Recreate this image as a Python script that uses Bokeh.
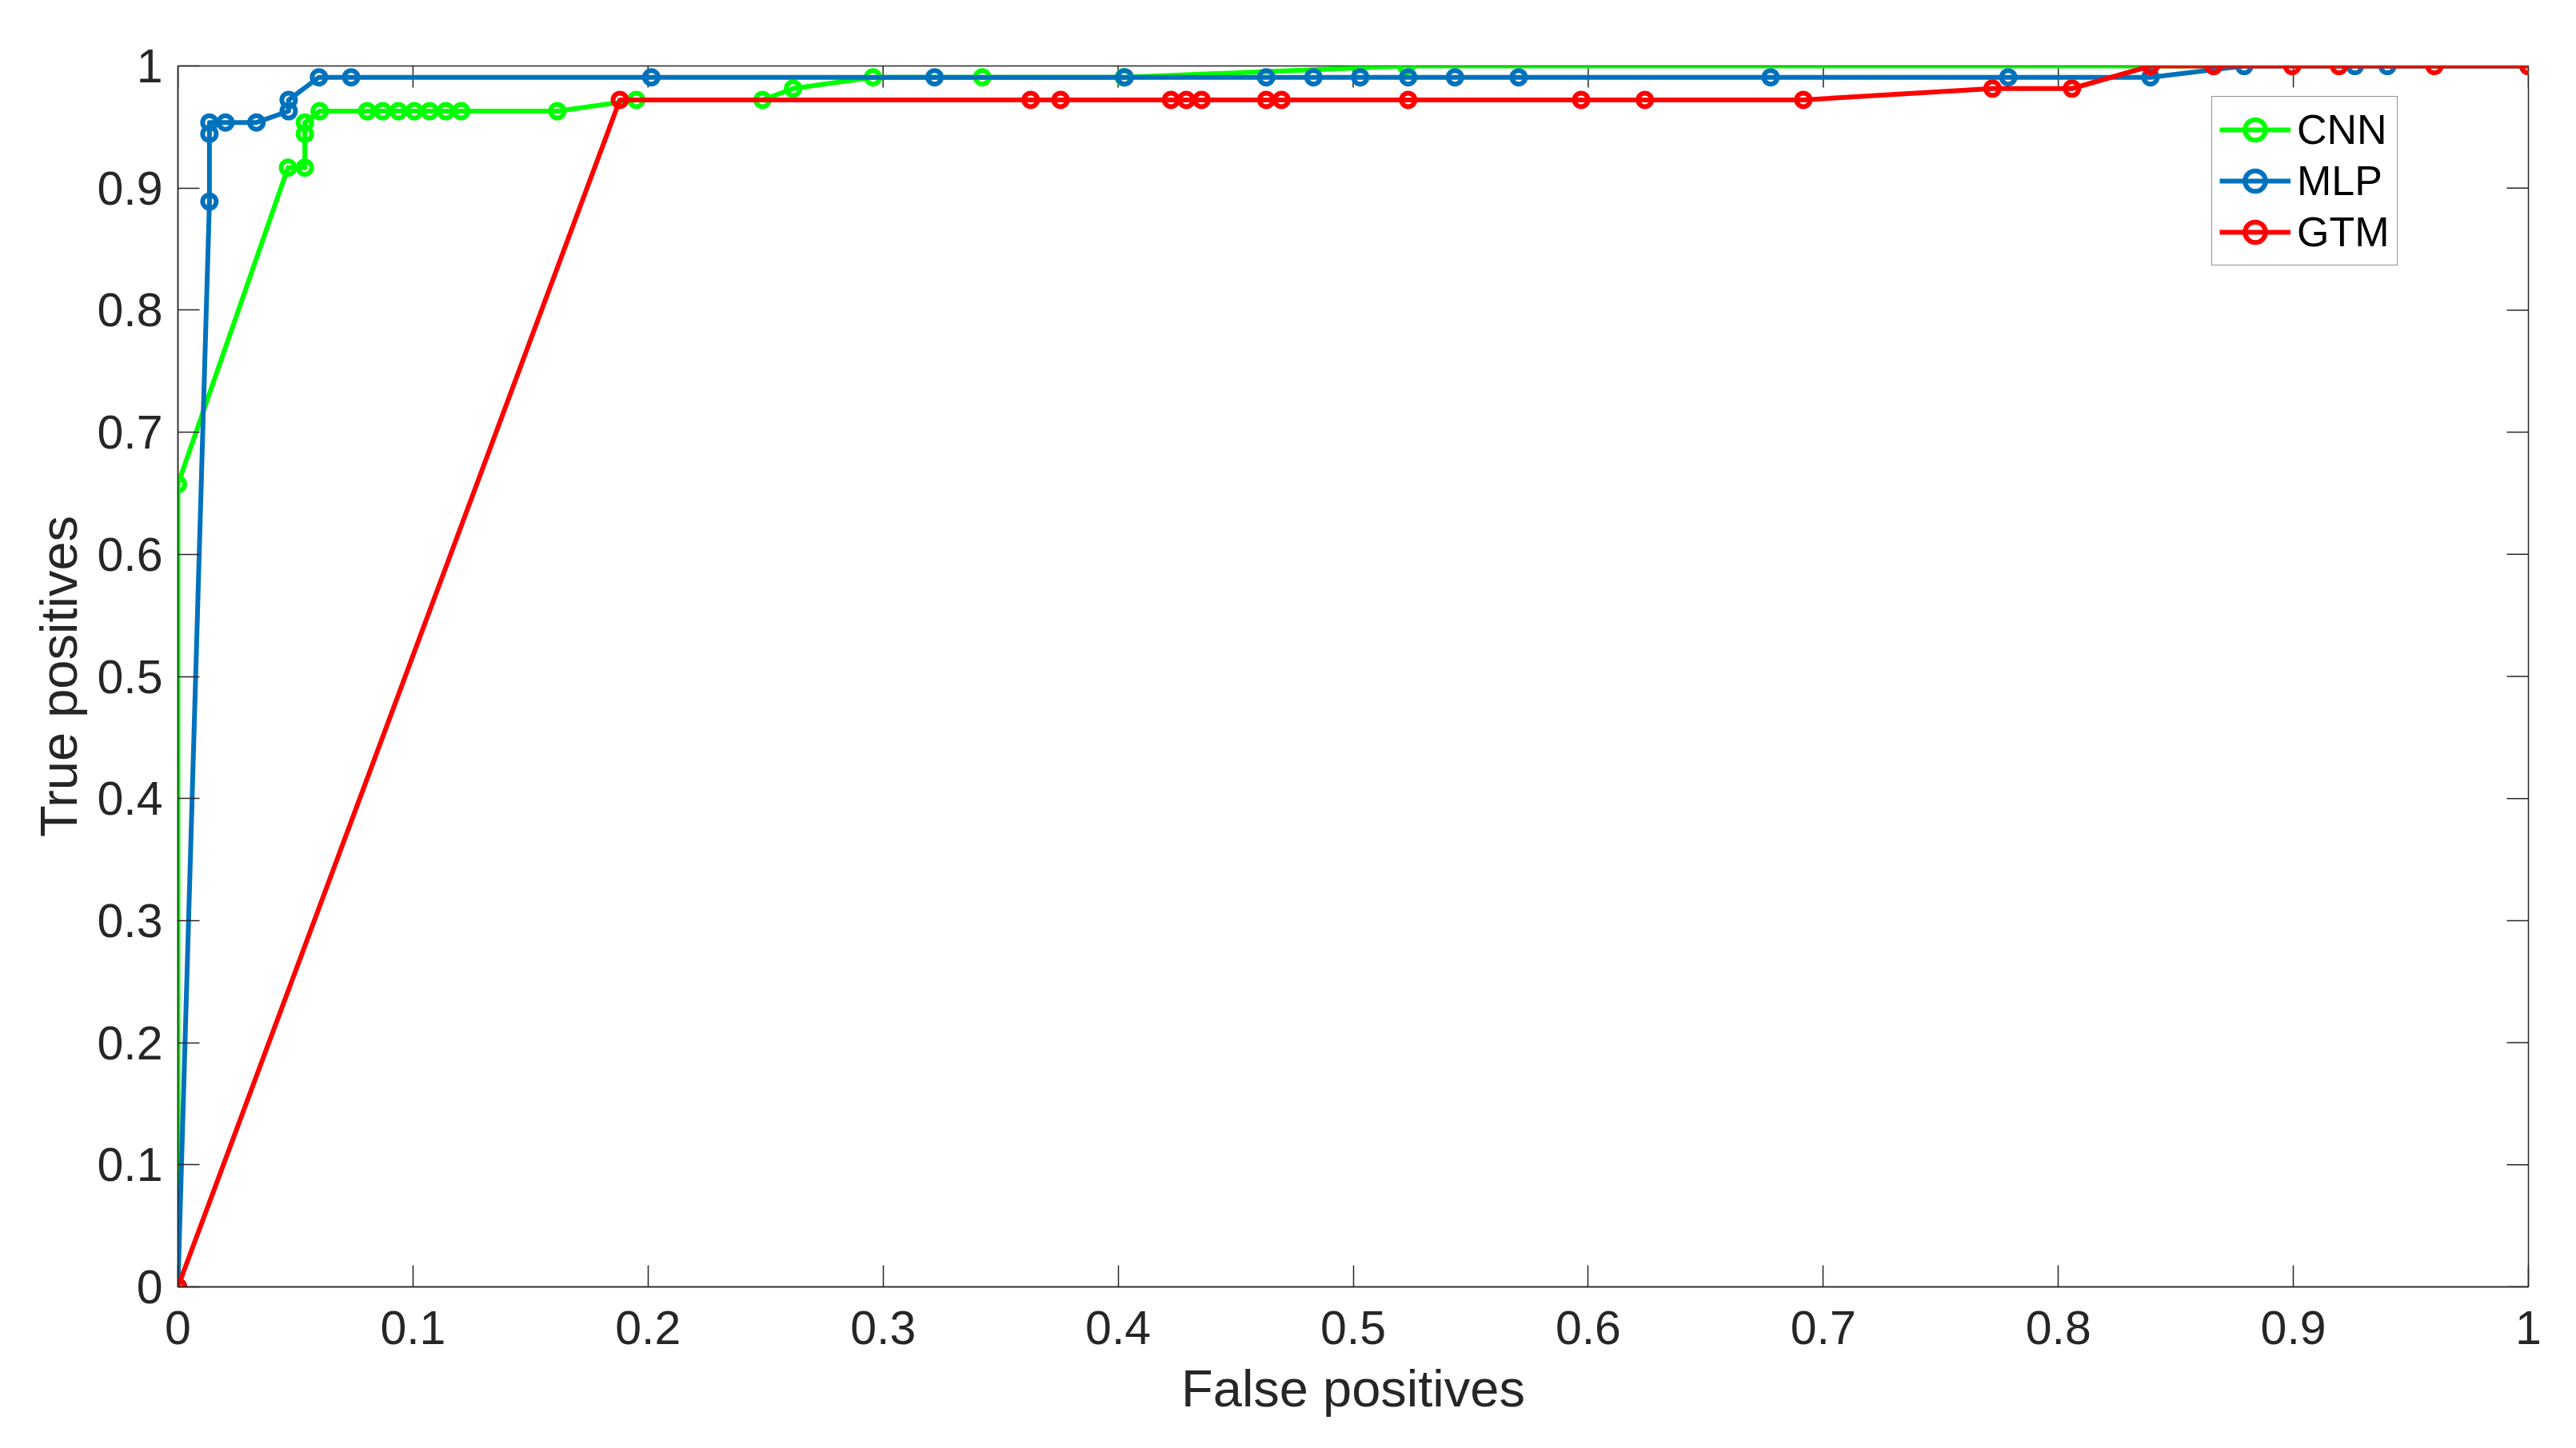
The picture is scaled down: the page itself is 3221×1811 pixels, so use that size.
from bokeh.plotting import figure
from bokeh.models import LinearAxis, FixedTicker, Legend, LegendItem, Range1d
from bokeh.embed import file_html
from bokeh.resources import INLINE

# ---- data ----
cnn_fp = [0, 0, 0.0468, 0.054, 0.054, 0.054, 0.0603, 0.0805, 0.0871, 0.0938, 0.1006,
          0.1071, 0.114, 0.1205, 0.1614, 0.195, 0.2487, 0.2617, 0.2957, 0.3422, 0.4024,
          0.5226, 1.0]
cnn_tp = [0, 0.6574, 0.9167, 0.9167, 0.9444, 0.9537, 0.963, 0.963, 0.963, 0.963, 0.963,
          0.963, 0.963, 0.963, 0.963, 0.9722, 0.9722, 0.9815, 0.9907, 0.9907, 0.9907,
          1.0, 1.0]

mlp_fp = [0, 0.0134, 0.0134, 0.0134, 0.0202, 0.0334, 0.0471, 0.0471, 0.060, 0.0737,
          0.2014, 0.3219, 0.4028, 0.463, 0.4831, 0.503, 0.5234, 0.5433, 0.5704, 0.6776,
          0.7787, 0.8392, 0.8791, 0.9262, 0.94, 1.0]
mlp_tp = [0, 0.8889, 0.9444, 0.9537, 0.9537, 0.9537, 0.963, 0.9722, 0.9907, 0.9907,
          0.9907, 0.9907, 0.9907, 0.9907, 0.9907, 0.9907, 0.9907, 0.9907, 0.9907, 0.9907,
          0.9907, 0.9907, 1.0, 1.0, 1.0, 1.0]

gtm_fp = [0, 0.188, 0.3628, 0.3755, 0.4225, 0.429, 0.4355, 0.463, 0.4695, 0.5234, 0.597,
          0.6241, 0.6915, 0.772, 0.8058, 0.8392, 0.8661, 0.8995, 0.9194, 0.960, 1.0]
gtm_tp = [0, 0.9722, 0.9722, 0.9722, 0.9722, 0.9722, 0.9722, 0.9722, 0.9722, 0.9722,
          0.9722, 0.9722, 0.9722, 0.9815, 0.9815, 1.0, 1.0, 1.0, 1.0, 1.0, 1.0]

series_names = ["CNN", "MLP", "GTM"]
series_colors = ["#00FF00", "#0072BD", "#FF0000"]

tick_vals = [0, 0.1, 0.2, 0.3, 0.4, 0.5, 0.6, 0.7, 0.8, 0.9, 1]
tick_labels = ["0", "0.1", "0.2", "0.3", "0.4", "0.5", "0.6", "0.7", "0.8", "0.9", "1"]

x_title = "False positives"
y_title = "True positives"

# ---- figure ----
FONT = "Liberation Sans"
AX = "#262626"
W, H = 3205, 1795
BL, BR, BT, BB = 222, 44, 82, 186
TICK = 27

p = figure(width=W, height=H, output_backend="svg", toolbar_location=None,
           x_range=Range1d(0, 1), y_range=Range1d(0, 1),
           min_border_left=BL, min_border_right=BR, min_border_top=BT, min_border_bottom=BB,
           x_axis_location=None, y_axis_location=None)
p.grid.visible = False
p.outline_line_color = AX
p.outline_line_width = 1.5
p.background_fill_color = "white"
p.border_fill_color = "white"

overrides = {v: s for v, s in zip(tick_vals, tick_labels)}

def style_axis(ax):
    ax.ticker = FixedTicker(ticks=tick_vals)
    ax.major_tick_in = TICK
    ax.major_tick_out = 0
    ax.minor_tick_line_color = None
    ax.axis_line_color = AX
    ax.axis_line_width = 1.5
    ax.major_tick_line_color = AX
    ax.major_tick_line_width = 1.5
    ax.major_label_overrides = overrides
    ax.major_label_text_font = FONT
    ax.major_label_text_font_size = "59px"
    ax.major_label_text_color = AX
    ax.axis_label_text_font = FONT
    ax.axis_label_text_font_size = "65px"
    ax.axis_label_text_font_style = "normal"
    ax.axis_label_text_color = AX

xb = LinearAxis(axis_label=x_title)
style_axis(xb)
xb.major_label_standoff = 30
xb.axis_label_standoff = 16
p.add_layout(xb, "below")

yl = LinearAxis(axis_label=y_title)
style_axis(yl)
yl.major_label_standoff = 19
yl.axis_label_standoff = 8
p.add_layout(yl, "left")

# inward ticks on the top and right edges of the box
fw = W - BL - BR
fh = H - BT - BB
p.segment(x0=tick_vals, y0=[1] * len(tick_vals), x1=tick_vals,
          y1=[1 - TICK / fh] * len(tick_vals), line_color=AX, line_width=1.5)
p.segment(x0=[1] * len(tick_vals), y0=tick_vals, x1=[1 - TICK / fw] * len(tick_vals),
          y1=tick_vals, line_color=AX, line_width=1.5)

items = []
for xs, ys, name, col in zip([cnn_fp, mlp_fp, gtm_fp], [cnn_tp, mlp_tp, gtm_tp],
                             series_names, series_colors):
    r1 = p.line(xs, ys, line_color=col, line_width=6, line_join="round")
    r2 = p.scatter(xs, ys, marker="circle", size=17, line_color=col, line_width=6,
                   fill_alpha=0)
    items.append(LegendItem(label=name, renderers=[r1, r2]))

legend = Legend(items=items, location=(2543, 1277))
legend.label_text_font = FONT
legend.label_text_font_size = "52px"
legend.label_text_color = "black"
legend.glyph_width = 89
legend.glyph_height = 64
legend.label_height = 64
legend.label_standoff = 8
legend.spacing = 0
legend.padding = 9
legend.margin = 0
legend.border_line_color = AX
legend.border_line_width = 1.5
legend.background_fill_color = "white"
legend.background_fill_alpha = 1
p.add_layout(legend, "center")

open("out.html", "w").write(file_html(p, INLINE))
